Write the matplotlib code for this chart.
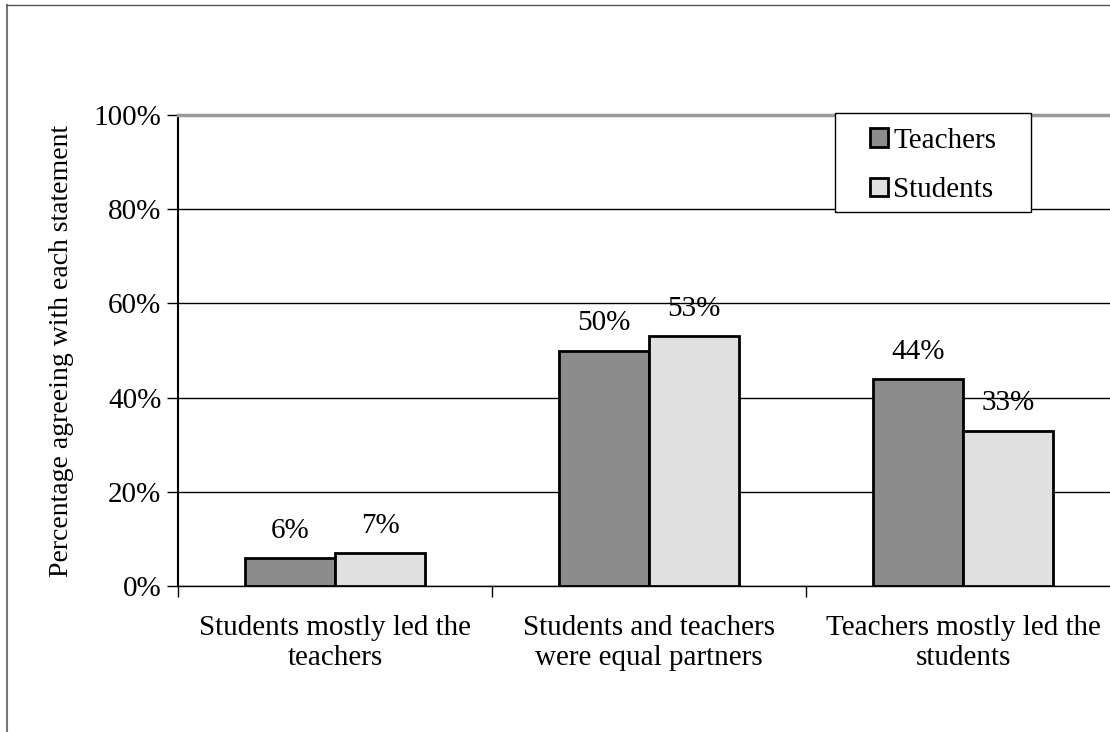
import numpy as np
import matplotlib.pyplot as plt
from matplotlib.lines import Line2D
from matplotlib.patches import Rectangle

# 資料
categories = ['Students mostly led the\nteachers',
              'Students and teachers\nwere equal partners',
              'Teachers mostly led the\nstudents']
teachers = [6, 50, 44]
students = [7, 53, 33]
series_names = ['Teachers', 'Students']

plt.rcParams['font.family'] = ['Liberation Serif', 'DejaVu Serif']

fig = plt.figure(figsize=(11.1, 7.32), dpi=100)
ax = fig.add_axes([178/1110, 146/732, 942/1110, 471/732])

x = np.arange(len(categories))
w = 0.287
b1 = ax.bar(x - w/2, teachers, w, color='#8c8c8c', edgecolor='black', linewidth=2, label=series_names[0], zorder=3)
b2 = ax.bar(x + w/2, students, w, color='#e0e0e0', edgecolor='black', linewidth=2, label=series_names[1], zorder=3)

for bars, vals in [(b1, teachers), (b2, students)]:
    for r, v in zip(bars, vals):
        ax.text(r.get_x() + r.get_width()/2, v + 3, f'{v}%', ha='center', va='bottom', fontsize=21)

ax.set_xlim(-0.5, 2.5)
ax.set_ylim(0, 100)
ax.set_yticks(range(0, 101, 20))
ax.set_yticklabels([f'{t}%' for t in range(0, 101, 20)], fontsize=21)
ax.yaxis.grid(True, color='black', linewidth=1)
ax.set_axisbelow(True)

# x 軸刻度在分類邊界，標籤在中間
ax.set_xticks([-0.5, 0.5, 1.5, 2.5])
ax.set_xticklabels([])
ax.set_xticks(x, minor=True)
ax.set_xticklabels(categories, minor=True, fontsize=21)
ax.tick_params(axis='x', which='minor', length=0, pad=21)
ax.tick_params(axis='x', which='major', length=8, width=1, direction='out')
ax.tick_params(axis='y', length=8, width=1, direction='out', pad=4)

ax.spines['right'].set_visible(False)
ax.spines['top'].set_color('#999999')
ax.spines['top'].set_linewidth(2.5)
ax.spines['left'].set_linewidth(1.5)
ax.spines['bottom'].set_linewidth(1)

ax.set_ylabel('Percentage agreeing with each statement', fontsize=20, labelpad=14)

# 圖例外框
box = Rectangle((0.697, 0.794), 0.209, 0.210, transform=ax.transAxes, facecolor='white',
                edgecolor='black', linewidth=1, zorder=5, clip_on=False)
ax.add_patch(box)
leg = ax.legend(loc='center left', bbox_to_anchor=((870-178)/942, 0.893), fontsize=21,
                frameon=False, handlelength=0.6, handleheight=0.6, handletextpad=0.2,
                borderpad=0, labelspacing=0.8, borderaxespad=0)
leg.set_zorder(6)
for p in leg.get_patches():
    p.set_linewidth(2)

# 外框
fig.add_artist(Line2D([7/1110, 7/1110], [0, 1 - 5/732], transform=fig.transFigure, color='#777777', linewidth=1.5))
fig.add_artist(Line2D([7/1110, 1], [1 - 5/732, 1 - 5/732], transform=fig.transFigure, color='#555555', linewidth=1))

fig.savefig('out.png', dpi=100)
